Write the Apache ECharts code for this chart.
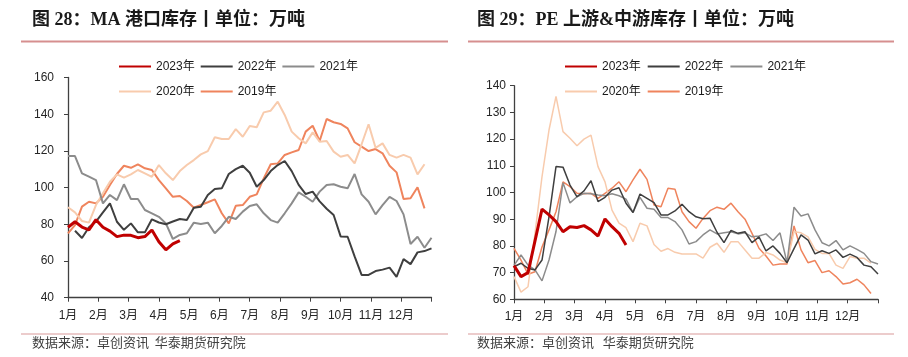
<!DOCTYPE html>
<html><head><meta charset="utf-8">
<script src="https://cdn.jsdelivr.net/npm/echarts@6/dist/echarts.min.js"></script>
<style>html,body{margin:0;padding:0;background:#fff}#c{width:908px;height:357px}</style>
</head><body><div id="c"></div>
<script>
// ---- data (weekly points, index = week of year) ----
const monthLabels = ['1月','2月','3月','4月','5月','6月','7月','8月','9月','10月','11月','12月'];
const yearNames = ['2023年','2022年','2021年','2020年','2019年'];

// MA port inventory (万吨)
const ma2023 = [78.4,81.4,78.5,77,82.5,78.4,76.3,73.3,74.1,74,72.7,73.3,76.9,70.5,66.1,69.3,71.1];
const ma2022 = [null,76.5,72.5,78.4,81.5,86.5,91.4,81.4,77,80.5,75.6,75.6,82.7,81,80,81.5,82.9,82.3,89,89.6,96,99.2,99.6,107.4,110.1,111.9,108.1,100.5,104.1,109,112.3,114.5,109,101.5,96.5,97.8,92.5,88.5,85.1,73.4,73.2,62.5,52.4,52.4,54.5,55.3,56.4,51.4,61,58.3,64.7,65.4,66.9];
const ma2021 = [117.2,117.2,107.8,106,104.1,91.4,96,93.2,101.8,93.8,93.8,87.8,86,84.1,80.5,72,74.2,75.1,80.9,80.2,80.9,75.1,79.1,84.1,82.9,86.9,90,90.9,86,82.3,80.9,86,91.4,97.4,95,92.3,97.8,101.4,101.8,100.5,99.6,107.4,96.3,92.3,85.4,90.5,95,92.7,85.4,69.3,73.2,67.2,72.7];
const ma2020 = [89.3,86.5,81.8,80.9,90.5,96.9,103.2,107.2,105.4,107.2,109.6,107.8,105.9,112.3,107.8,104.1,109,112.3,115,118.1,119.9,127.4,126.5,126.5,131.9,127.7,133.6,132.9,141,141.9,146.8,139.6,130.5,126.9,124.1,130.1,125,125.4,119.6,116.8,117.8,113.2,123.6,134.5,121.7,124.1,117.8,116.3,117.8,116.3,107.2,112.7];
const ma2019 = [75.1,79.6,89.6,92.3,91.4,95,101.4,107.4,111.9,110.8,112.7,110.5,109.6,104.1,99.6,95,95.4,92.7,89,90.5,92,93.6,86,80.5,90.1,90.5,95,96.3,105,112.7,113.2,117.8,119.2,120.5,130.5,133.7,125.4,137.4,135.6,134.7,132.3,124.7,122.3,119.9,121,118.7,111.9,108.3,93.8,94.2,100.2,88.7];

// PE upstream & midstream inventory (万吨)
const pe2023 = [72.6,68.5,70,81.9,93.8,91.6,89.1,85.3,87.2,86.9,87.6,86,83.7,90.1,87.2,84.7,80.3];
const pe2022 = [72.2,73.5,71.6,71,74.7,90.9,109.7,109.5,102.8,98.4,100.6,104.4,96.6,98.2,100.9,101.8,96,92.5,99.4,97.8,96.2,91.6,91.6,93.1,95.6,92.8,90.9,90.2,90.4,85.1,81.2,85.8,84.7,85.3,81.2,83.4,78.1,80,77.2,73.7,79,84.1,82.2,77,78.2,77.2,78.5,75.7,76.9,75.7,72.8,72.2,69.5];
const pe2021 = [72.7,76.6,72.8,71,66.9,74.7,85.4,103.7,96.1,98.4,99.7,99.5,99.1,98.8,99.5,98.8,97.5,92.5,98.2,94.1,93.7,90.6,90.6,89.1,86,80.7,81.6,84.1,86,84.5,84.9,85.3,84.5,84.9,83.4,83.7,84.5,82,84.9,73.7,94.5,91.2,92,86,81.2,80,82,78.5,80,78.7,77.2,74.1,73.2];
const pe2020 = [68.5,62.7,64.7,84.7,105.9,123.4,136,122.8,120.3,117.5,120,121.5,109.7,104,93.4,88.5,86.8,81.6,88.5,87.5,80.5,78,79,77.6,77,77,77,75.4,79.5,81,77.6,81.6,81.6,78.5,75.4,75.4,77.5,76.6,74.7,73.7,85.3,84.9,83.4,78.7,77.2,77.2,72.8,71.6,76,75.4,75.4,73.5];
const pe2019 = [79.1,74.7,69.4,70.3,79.6,86,92.8,104,102.2,99.7,99.5,99.7,97.8,99.7,101.6,104,100.3,104.7,108.7,104.9,95.3,94.7,101.6,101.2,92.8,89.1,86.6,90.3,93.2,94.5,93.7,96,92.8,90,84.7,79.1,76.2,72.8,73.2,73.2,87.5,78.5,73.7,74.5,70,70.7,68.5,65.7,66.2,67.5,65.4,62.2];

const titleLeft = '图 28：MA 港口库存丨单位：万吨';
const titleRight = '图 29：PE 上游&中游库存丨单位：万吨';
const sourceLeft = '数据来源：卓创资讯  华泰期货研究院';
const sourceRight = '数据来源：卓创资讯   华泰期货研究院';

// ---- chart ----
const WEEKS = 52;
const colors = {'2023年':'#C00000','2022年':'#3F3F3F','2021年':'#8C8C8C','2020年':'#F8CBAD','2019年':'#EF845D'};
const pairs = arr => arr.map((v,i)=>[i,v]).filter(p=>p[1]!=null);

function mkSeries(idx, sets, w){
  const order = ['2019年','2020年','2021年','2022年','2023年'];
  return order.map(n=>({
    name:n, type:'line', xAxisIndex:idx, yAxisIndex:idx, data:pairs(sets[n]),
    symbol:'none', showSymbol:false,
    lineStyle:{color:colors[n], width: n==='2023年'?3:w},
    itemStyle:{color:colors[n]}, z: 2+order.indexOf(n)
  }));
}
const axisCol = '#404040';
function mkX(idx, margin){
  return {type:'value', gridIndex:idx, min:0, max:WEEKS, interval:WEEKS/12,
    axisLine:{show:true, lineStyle:{color:axisCol, width:1.3}},
    axisTick:{show:true, length:4, lineStyle:{color:axisCol}},
    splitLine:{show:false},
    axisLabel:{margin:margin, fontSize:12, color:'#262626', fontFamily:"'Liberation Sans','Noto Sans CJK SC'",
      formatter:v=>{const m=Math.round(v/(WEEKS/12)); return m<12?monthLabels[m]:'';}}};
}
function mkY(idx, min, max, interval, margin){
  return {type:'value', gridIndex:idx, min:min, max:max, interval:interval,
    axisLine:{show:true, lineStyle:{color:axisCol, width:1.3}},
    axisTick:{show:true, length:4, lineStyle:{color:axisCol}},
    splitLine:{show:false},
    axisLabel:{margin:margin, fontSize:12, color:'#262626', fontFamily:"'Liberation Sans'"}};
}
function mkLegend(left, top, data, gap){
  return {left:left, top:top, padding:0, itemWidth:32, itemHeight:12, itemGap:gap, data:data,
    itemStyle:{opacity:0, borderWidth:0},
    textStyle:{fontSize:12, color:'#1a1a1a', fontFamily:"'Liberation Sans','Noto Sans CJK SC'"}};
}
const titleFont = "bold 18px 'Liberation Serif','Noto Sans CJK SC'";
const srcFont = "13px 'Noto Sans CJK SC'";

const option = {
  animation:false, backgroundColor:'#ffffff',
  grid:[{left:68, top:77.5, width:363.5, height:220.2},{left:514, top:85.7, width:364, height:213.6}],
  xAxis:[mkX(0,12), mkX(1,11)],
  yAxis:[mkY(0,40,160,20,14), mkY(1,60,140,10,8)],
  legend:[
    mkLegend(118,60.5,['2023年','2022年','2021年'],5),
    mkLegend(118,85.5,['2020年','2019年'],5),
    mkLegend(564,60.5,['2023年','2022年','2021年'],6),
    mkLegend(564,85.5,['2020年','2019年'],6)
  ],
  series:[].concat(
    mkSeries(0,{'2023年':ma2023,'2022年':ma2022,'2021年':ma2021,'2020年':ma2020,'2019年':ma2019},2),
    mkSeries(1,{'2023年':pe2023,'2022年':pe2022,'2021年':pe2021,'2020年':pe2020,'2019年':pe2019},1.5)
  ),
  graphic:[
    {type:'text', left:32, top:11, style:{text:titleLeft, font:titleFont, fill:'#1a1a1a'}},
    {type:'text', left:477, top:11, style:{text:titleRight, font:titleFont, fill:'#1a1a1a'}},
    {type:'rect', shape:{x:21, y:40.5, width:427, height:2}, style:{fill:'#D68F8F'}},
    {type:'rect', shape:{x:468, y:40.5, width:426, height:2}, style:{fill:'#D68F8F'}},
    {type:'rect', shape:{x:21, y:333.5, width:427, height:1}, style:{fill:'#D99A9A'}},
    {type:'rect', shape:{x:468, y:333.5, width:426, height:1}, style:{fill:'#D99A9A'}},
    {type:'text', left:32, top:336, style:{text:sourceLeft, font:srcFont, fill:'#404040'}},
    {type:'text', left:477, top:336, style:{text:sourceRight, font:srcFont, fill:'#404040'}}
  ]
};
const chart = echarts.init(document.getElementById('c'), null, {renderer:'canvas'});
chart.setOption(option);
</script></body></html>
